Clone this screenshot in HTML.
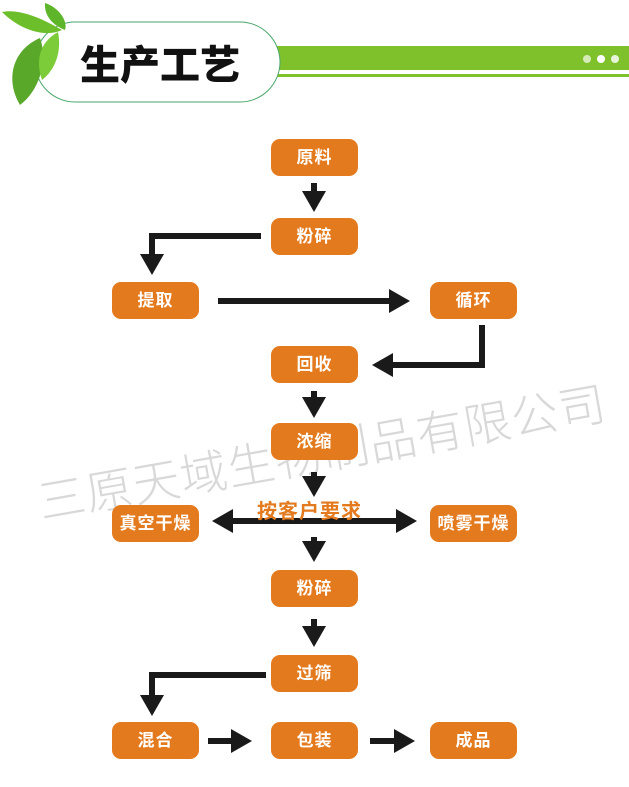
<!DOCTYPE html>
<html><head><meta charset="utf-8"><style>
body{margin:0;width:629px;height:787px;background:#fff;position:relative;overflow:hidden;font-family:"Liberation Sans","Noto Sans CJK SC",sans-serif}
.b{position:absolute;width:87px;height:37px;background:#e47a1e;border-radius:9px;color:#fff;font-weight:bold;font-size:17px;line-height:37px;text-align:center;letter-spacing:1px}
.wm{position:absolute;left:32px;top:465px;font-size:47px;color:#d8d8d8;transform:rotate(-10deg);transform-origin:left top;white-space:nowrap;letter-spacing:1px;font-family:"Noto Sans CJK SC",sans-serif;font-weight:300}
</style></head><body>
<div class="wm">三原天域生物制品有限公司</div>
<svg width="629" height="110" style="position:absolute;left:0;top:0">
<rect x="276" y="46" width="353" height="24" fill="#7fc12b"/>
<rect x="276" y="74" width="353" height="3" fill="#7fc12b"/>
<path d="M75 22 H240 A40 40 0 0 1 240 102 H75 A40 40 0 0 1 75 22Z" fill="#fff" stroke="#4aa66a" stroke-width="1"/>
<circle cx="587" cy="59" r="4" fill="#d6ecb8"/><circle cx="601" cy="59" r="4" fill="#fff"/><circle cx="615" cy="59" r="4" fill="#e8f4da"/>
<path d="M2 12 C20 8 45 20 62 30 C45 38 20 30 2 12Z" fill="#6cbf2a"/>
<path d="M45 3 C60 8 68 22 65 30 C52 25 44 15 45 3Z" fill="#5fb52a"/>
<path d="M20 105 C5 80 12 50 40 38 C48 60 40 90 20 105Z" fill="#5aa82a"/>
<path d="M42 80 C35 60 40 42 58 32 C62 52 55 70 42 80Z" fill="#7ccc3a"/>
<text x="80" y="79" font-size="40" font-weight="900" fill="#111" font-family="Noto Sans CJK SC,sans-serif">生产工艺</text>
</svg>
<svg width="629" height="787" style="position:absolute;left:0;top:0">
<defs><marker id="a" markerWidth="4" markerHeight="4" refX="1" refY="2" orient="auto"><path d="M0 0L3.5 2L0 4Z" fill="#1a1a1a"/></marker></defs>
<g stroke="#1a1a1a" stroke-width="6" fill="none" marker-end="url(#a)">
<path d="M314 183V197"/>
<path d="M261 236H152V260"/>
<path d="M218 301H395"/>
<path d="M482 325V365H387"/>
<path d="M314 391V403"/>
<path d="M314 472V482"/>
<path d="M314 537V547"/>
<path d="M314 619V632"/>
<path d="M266 675H152V701"/>
<path d="M208 741H237"/>
<path d="M370 741H400"/>
<path d="M310 521H402"/>
<path d="M310 521H227"/>
</g>
</svg>
<div style="position:absolute;left:257px;top:495px;font-size:20px;font-weight:bold;color:#e47a1e;letter-spacing:1px">按客户要求</div>
<div class="b" style="left:271px;top:139px">原料</div>
<div class="b" style="left:271px;top:218px">粉碎</div>
<div class="b" style="left:112px;top:282px">提取</div>
<div class="b" style="left:430px;top:282px">循环</div>
<div class="b" style="left:271px;top:346px">回收</div>
<div class="b" style="left:271px;top:423px">浓缩</div>
<div class="b" style="left:112px;top:505px">真空干燥</div>
<div class="b" style="left:430px;top:505px">喷雾干燥</div>
<div class="b" style="left:271px;top:570px">粉碎</div>
<div class="b" style="left:271px;top:655px">过筛</div>
<div class="b" style="left:112px;top:722px">混合</div>
<div class="b" style="left:271px;top:722px">包装</div>
<div class="b" style="left:430px;top:722px">成品</div>
</body></html>
